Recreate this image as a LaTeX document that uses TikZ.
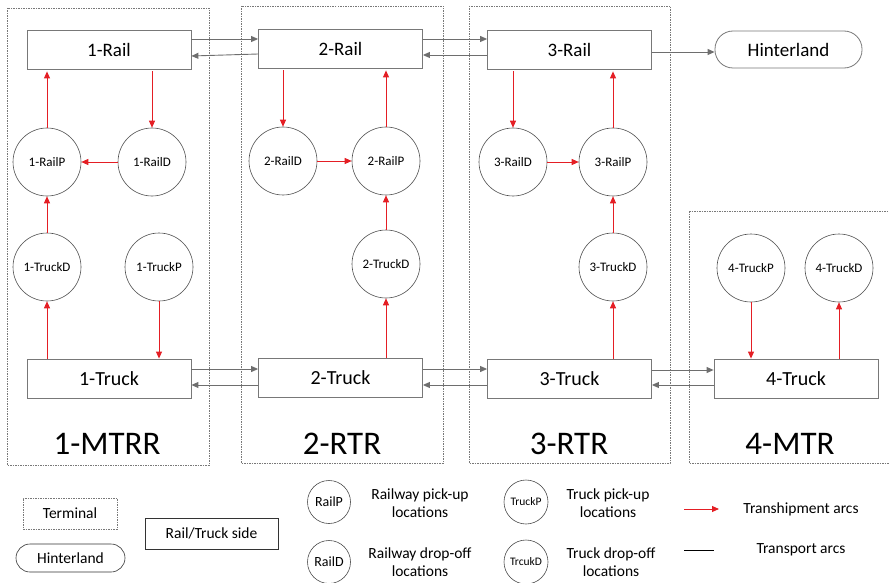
\documentclass[tikz,border=0pt]{standalone}
\usepackage{fontspec}
\setmainfont{Carlito}
\usetikzlibrary{arrows.meta}
\definecolor{arcred}{RGB}{228,30,36}
\definecolor{arcgray}{RGB}{110,110,110}
\definecolor{edgegray}{RGB}{120,120,120}
\tikzset{
  terminal/.style={draw=edgegray, dash pattern=on 1.5pt off 1pt, line width=0.6pt},
  sidebox/.style={draw=edgegray, line width=0.8pt, rectangle, minimum width=164pt, minimum height=39pt, inner sep=0pt},
  loc/.style={draw=black!70, line width=0.6pt, circle, minimum size=68pt, inner sep=0pt, font=\fontsize{13}{15}\selectfont},
  tarc/.style={draw=arcred, line width=0.9pt, -{Triangle[length=7pt,width=6pt]}},
  garc/.style={draw=arcgray, line width=0.9pt, -{Triangle[length=7pt,width=6pt]}},
  bigtxt/.style={font=\fontsize{33}{38}\selectfont},
  legtxt/.style={font=\fontsize{15.5}{18}\selectfont, align=center},
}
\begin{document}
\begin{tikzpicture}[x=1pt,y=-1pt]
\useasboundingbox (0,0) rectangle (889,583);
% terminals
\draw[terminal] (7,8) rectangle (209,465);
\draw[terminal] (241,6) rectangle (443,463);
\draw[terminal] (469,6) rectangle (670,463);
\draw[terminal] (689,211) -- (889,211);
\draw[terminal] (689,211) -- (689,463) -- (889,463);
% rail boxes
\node[sidebox, font=\fontsize{19}{22}\selectfont] (r1) at (109,49.5) {1-Rail};
\node[sidebox, font=\fontsize{19}{22}\selectfont] (r2) at (340.5,48.5) {2-Rail};
\node[sidebox, font=\fontsize{19}{22}\selectfont] (r3) at (569.5,49.5) {3-Rail};
\node[draw=edgegray, line width=0.8pt, rectangle, rounded corners=18pt, minimum width=147pt, minimum height=37pt, inner sep=0pt, font=\fontsize{19}{22}\selectfont] (hint) at (788.5,49.5) {Hinterland};
% truck boxes
\node[sidebox, font=\fontsize{20}{23}\selectfont] (t1) at (109,378.5) {1-Truck};
\node[sidebox, font=\fontsize{20}{23}\selectfont] (t2) at (340.5,377.5) {2-Truck};
\node[sidebox, font=\fontsize{20}{23}\selectfont] (t3) at (569.5,378.5) {3-Truck};
\node[sidebox, font=\fontsize{20}{23}\selectfont] (t4) at (796,378.5) {4-Truck};
% circles
\node[loc] (c1P) at (47,162) {1-RailP};
\node[loc] (c1D) at (152,162) {1-RailD};
\node[loc] (c1TD) at (47,267) {1-TruckD};
\node[loc] (c1TP) at (159,267) {1-TruckP};
\node[loc] (c2D) at (283,161) {2-RailD};
\node[loc] (c2P) at (386,161) {2-RailP};
\node[loc] (c2TD) at (386,264) {2-TruckD};
\node[loc] (c3D) at (513,162) {3-RailD};
\node[loc] (c3P) at (613,162) {3-RailP};
\node[loc] (c3TD) at (613,267) {3-TruckD};
\node[loc] (c4TP) at (751,268) {4-TruckP};
\node[loc] (c4TD) at (839,268) {4-TruckD};
% terminal names
\node[bigtxt] (n1) at (107,444) {1-MTRR};
\node[bigtxt] (n2) at (342,444) {2-RTR};
\node[bigtxt] (n3) at (569,444) {3-RTR};
\node[bigtxt] (n4) at (790,444) {4-MTR};
% transport arcs
\draw[garc] ([yshift=10.5pt]r1.east) -- ([yshift=9.5pt]r2.west);
\draw[garc] ([yshift=-5.5pt]r2.west) -- ([yshift=-6.5pt]r1.east);
\draw[garc] ([yshift=9.5pt]r2.east) -- ([yshift=10.5pt]r3.west);
\draw[garc] ([yshift=-5.5pt]r3.west) -- ([yshift=-5.5pt-1pt]r2.east);
\draw[garc] ([yshift=-2.5pt]r3.east) -- ([yshift=-2.5pt]hint.west);
\draw[garc] ([yshift=9.5pt]t1.east) -- ([yshift=9.5pt-1pt]t2.west);
\draw[garc] ([yshift=-7.5pt]t2.west) -- ([yshift=-6.5pt]t1.east);
\draw[garc] ([yshift=8.5pt]t2.east) -- ([yshift=9.5pt]t3.west);
\draw[garc] ([yshift=-6.5pt]t3.west) -- ([yshift=-7.5pt]t2.east);
\draw[garc] ([yshift=8.5pt]t3.east) -- ([yshift=8.5pt]t4.west);
\draw[garc] ([yshift=-6.5pt]t4.west) -- ([yshift=-6.5pt]t3.east);
% transhipment arcs
\draw[tarc, shorten <=2pt] (r1.south -| c1D) -- (c1D);
\draw[tarc, shorten >=2pt] (c1P) -- (r1.south -| c1P);
\draw[tarc] (c1D) -- (c1P);
\draw[tarc] (c1TD) -- (c1P);
\draw[tarc] (t1.north -| c1TD) -- (c1TD);
\draw[tarc] (c1TP) -- (t1.north -| c1TP);
\draw[tarc, shorten <=2pt] (r2.south -| c2D) -- (c2D);
\draw[tarc, shorten >=2pt] (c2P) -- (r2.south -| c2P);
\draw[tarc] (c2D) -- (c2P);
\draw[tarc] (c2TD) -- (c2P);
\draw[tarc] (t2.north -| c2TD) -- (c2TD);
\draw[tarc, shorten <=2pt] (r3.south -| c3D) -- (c3D);
\draw[tarc, shorten >=2pt] (c3P) -- (r3.south -| c3P);
\draw[tarc] (c3D) -- (c3P);
\draw[tarc] (c3TD) -- (c3P);
\draw[tarc] (t3.north -| c3TD) -- (c3TD);
\draw[tarc] (c4TP) -- (t4.north -| c4TP);
\draw[tarc] (t4.north -| c4TD) -- (c4TD);
% legend
\node[terminal, rectangle, minimum width=94pt, minimum height=31pt, inner sep=0pt, legtxt] (lterm) at (70,513.5) {Terminal};
\node[draw=black!80, line width=0.6pt, rectangle, rounded corners=14pt, minimum width=109pt, minimum height=28pt, inner sep=0pt, legtxt] (lhint) at (70.5,558) {Hinterland};
\node[draw=black!80, line width=0.6pt, rectangle, minimum width=133pt, minimum height=31pt, inner sep=0pt, legtxt] (lside) at (211.5,533.5) {Rail/Truck side};
\node[loc, minimum size=43pt, font=\fontsize{14}{16}\selectfont] (lrp) at (329,502) {RailP};
\node[loc, minimum size=43pt, font=\fontsize{14}{16}\selectfont] (lrd) at (329,562) {RailD};
\node[loc, minimum size=44pt, font=\fontsize{11.5}{13}\selectfont] (ltp) at (526,502) {TruckP};
\node[loc, minimum size=44pt, font=\fontsize{11.5}{13}\selectfont] (ltd) at (526,562) {TrcukD};
\node[legtxt] (lrptxt) at (420,503) {Railway pick-up\\locations};
\node[legtxt] (lrdtxt) at (420,562) {Railway drop-off\\locations};
\node[legtxt] (ltptxt) at (608,503) {Truck pick-up\\locations};
\node[legtxt] (ltdtxt) at (611,562) {Truck drop-off\\locations};
\coordinate (la1) at (684,509);
\coordinate (la2) at (719,509);
\coordinate (lb1) at (684,550);
\coordinate (lb2) at (714,550);
\draw[tarc] (la1) -- (la2);
\draw[black, line width=0.9pt] (lb1) -- (lb2);
\node[legtxt] (ltrans) at (801,509) {Transhipment arcs};
\node[legtxt] (ltransp) at (801,550) {Transport arcs};
\end{tikzpicture}
\end{document}
